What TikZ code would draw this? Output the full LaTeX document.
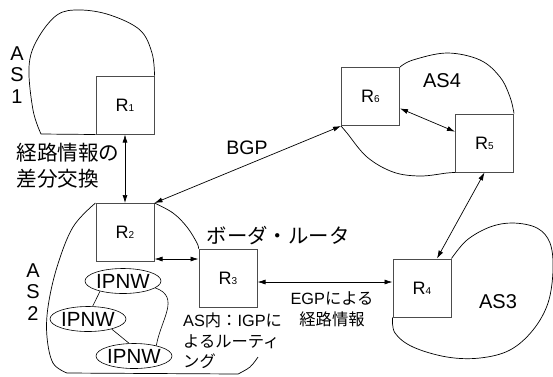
\documentclass[tikz,border=0pt]{standalone}
\usepackage{fontspec}
\setmainfont{Liberation Sans}
\newfontfamily\jp{Noto Sans CJK JP}
\usetikzlibrary{shapes.geometric,arrows.meta}

\tikzset{
  router/.style={draw=black!70, line width=1pt, minimum size=58pt, inner sep=0pt,
    font=\fontsize{18}{18}\selectfont},
  ipnw/.style={ellipse, draw, line width=0.6pt, minimum width=76pt, minimum height=25pt,
    inner sep=0pt, font=\fontsize{20.5}{20.5}\selectfont},
  region/.style={line width=0.7pt},
  link/.style={line width=0.7pt, {Latex[length=8pt,width=5pt]}-{Latex[length=8pt,width=5pt]}},
  big/.style={font=\fontsize{20}{21.5}\selectfont},
  small/.style={font=\fontsize{16.3}{20.5}\selectfont}
}
\newcommand{\rsub}[1]{{\fontsize{10}{10}\selectfont #1}}

\begin{document}
\begin{tikzpicture}[x=1pt, y=-1pt]
    \useasboundingbox (0,0) rectangle (553,376);

    % ルータ
    \node[router] (r1) at (125,105) {R\rsub{1}};
    \node[router] (r2) at (125,232.5) {R\rsub{2}};
    \node[router] (r3) at (228,278) {R\rsub{3}};
    \node[router] (r4) at (422,288) {R\rsub{4}};
    \node[router] (r5) at (484.5,143) {R\rsub{5}};
    \node[router] (r6) at (370.5,96.5) {R\rsub{6}};

    % AS1
    \draw[region] (r1.south west) -- (41,134)
        plot[smooth, tension=0.6] coordinates {(41,134) (33,110) (29,67) (37,40) (57,15)
        (80,10) (110,15) (140,30) (152,53) (r1.north east)};
    \node[big, align=center] (as1) at (17,75) {A\\S\\1};

    % AS2
    \draw[region] plot[smooth, tension=0.6] coordinates {(r2.north west) (73,227) (57,267)
        (48,307) (47,337) (53,363) (67,373)} -- (238,374)
        plot[smooth, tension=0.6] coordinates {(238,374) (250,367) (258,357)};
    \draw[region] plot[smooth, tension=0.6] coordinates {(r2.north east) (173,213)
        (187,227) (197,243) (r3.north west)};
    \node[big, align=center] (as2) at (33,292) {A\\S\\2};

    % AS内のネットワーク
    \node[ipnw] (n1) at (123,281) {IPNW};
    \node[ipnw] (n2) at (88,319) {IPNW};
    \node[ipnw] (n3) at (134,356) {IPNW};
    \draw[line width=0.6pt] (n1.204) -- (n2.70);
    \draw[line width=0.6pt] (n2.-23) -- (n3.111);
    \draw[line width=0.6pt] (n1.-12) to[out=-20, in=80, looseness=1.2] (n3.25);

    % AS3
    \draw[region] plot[smooth, tension=0.6] coordinates {(r4.north east) (467,240) (490,227)
        (513,223) (537,228) (550,243) (553,270) (548,303) (533,330) (510,350) (480,358)
        (447,357) (413,347) (395,333) (r4.south west)};
    \node[big] (as3) at (498,302) {AS3};

    % AS4
    \draw[region] plot[smooth, tension=0.6] coordinates {(r6.north east) (413,60) (447,53)
        (480,60) (500,77) (510,97) (r5.north east)};
    \draw[region] plot[smooth, tension=0.6] coordinates {(r6.south west) (347,133) (367,157)
        (393,172) (420,176) (447,173) (r5.south west)};
    \node[big] (as4) at (442,81) {AS4};

    % 経路情報のやりとり
    \draw[link] (r1.south) -- (r2.north);
    \draw[link] (r2.north east) -- (r6.south west);
    \draw[link] ([yshift=3pt]r2.south east) -- ([yshift=3pt]r2.south east -| r3.west);
    \draw[link] ([yshift=-4pt]r3.east) -- ([yshift=-4pt]r3.east -| r4.west);
    \draw[link] ([xshift=15pt]r4.north) -- (r5.south);
    \draw[link] (r6.-22) -- (r5.159);

    % ラベル
    \node[anchor=west, align=left, font=\fontsize{20.6}{26}\selectfont\jp] (diff) at (13,166)
        {経路情報の\\差分交換};
    \node[big, font=\fontsize{19.5}{19.5}\selectfont] (bgp) at (247,148) {BGP};
    \node[font=\fontsize{20.4}{20.4}\selectfont\jp] (border) at (278,236) {ボーダ・ルータ};
    \node[small, align=center] (egp) at (332,309.5) {EGP{\jp による}\\{\jp 経路情報}};
    \node[small, align=left, anchor=north west, inner sep=0pt] (igp) at (183,313)
        {AS{\jp 内：}IGP{\jp に}\\{\jp よるルーティ}\\{\jp ング}};
\end{tikzpicture}
\end{document}
